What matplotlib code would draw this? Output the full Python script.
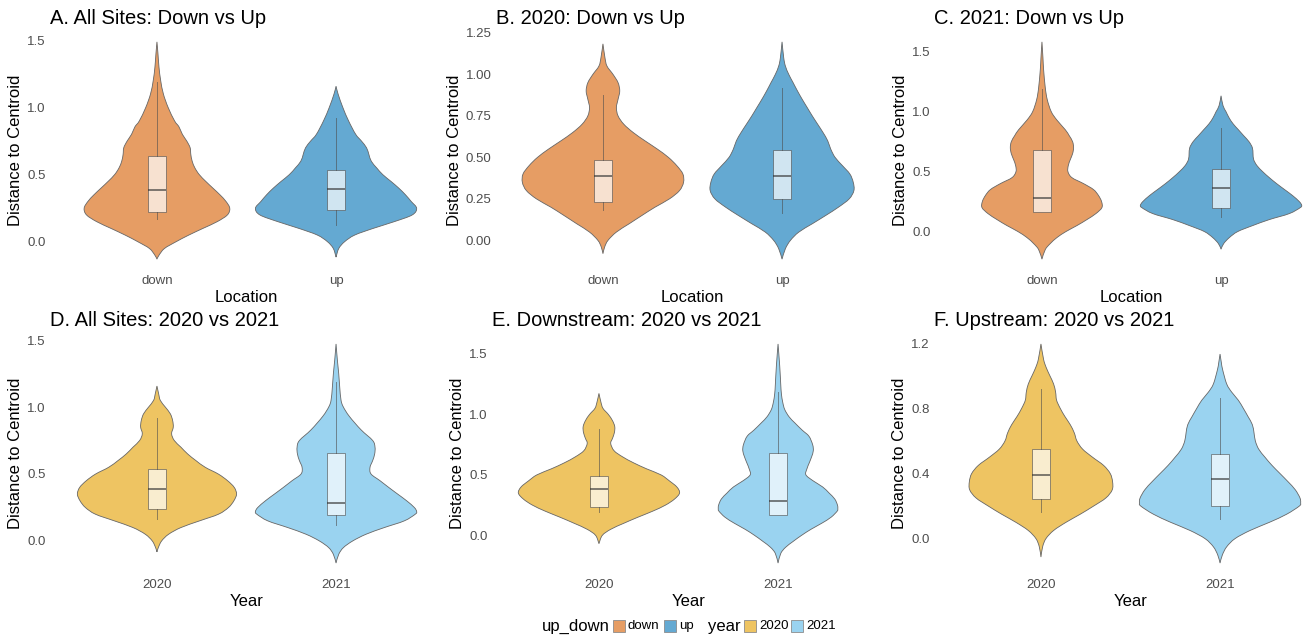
import numpy as np
import matplotlib
matplotlib.use('Agg')
import matplotlib.pyplot as plt
from matplotlib.patches import Rectangle, PathPatch
from matplotlib.path import Path
from matplotlib.ticker import MultipleLocator, FormatStrFormatter

plt.rcParams['font.family'] = ['Liberation Sans', 'DejaVu Sans']

W, H = 1311, 639

col_down = '#E69D64'
col_up = '#64A9D2'
col_2020 = '#EEC462'
col_2021 = '#9AD3F0'

loc_cats = ['down', 'up']
year_cats = ['2020', '2021']

# kernel density profiles of distance to centroid (value level, density)
# A. all sites
a_down_y = [1.488, 1.40, 1.30, 1.20, 1.10, 1.00, 0.90, 0.856, 0.80, 0.75, 0.70, 0.65, 0.60, 0.55, 0.50,
            0.45, 0.40, 0.35, 0.30, 0.25, 0.20, 0.15, 0.10, 0.05, 0.0, -0.05, -0.10, -0.129]
a_down_d = [0, 0.03, 0.06, 0.11, 0.19, 0.33, 0.52, 0.65, 0.75, 0.88, 0.98, 1.00, 1.04, 1.12, 1.25,
            1.44, 1.65, 1.86, 2.04, 2.15, 2.08, 1.78, 1.36, 0.94, 0.56, 0.22, 0.06, 0]
a_up_y = [1.158, 1.10, 1.00, 0.90, 0.80, 0.75, 0.70, 0.65, 0.60, 0.55, 0.50, 0.45, 0.40, 0.35, 0.30,
          0.25, 0.20, 0.15, 0.10, 0.05, 0.0, -0.05, -0.114]
a_up_d = [0, 0.06, 0.20, 0.37, 0.58, 0.75, 0.90, 0.97, 1.04, 1.20, 1.38, 1.62, 1.85, 2.05, 2.22,
          2.38, 2.25, 1.72, 1.10, 0.55, 0.25, 0.08, 0]

# B. 2020
b_down_y = [1.184, 1.10, 1.05, 1.00, 0.95, 0.90, 0.85, 0.80, 0.75, 0.70, 0.65, 0.60, 0.55, 0.50, 0.45,
            0.40, 0.35, 0.30, 0.25, 0.20, 0.15, 0.10, 0.05, 0.0, -0.04, -0.08]
b_down_d = [0, 0.06, 0.12, 0.30, 0.45, 0.50, 0.45, 0.40, 0.45, 0.62, 0.90, 1.25, 1.62, 1.95, 2.20,
            2.38, 2.40, 2.28, 1.98, 1.55, 1.16, 0.78, 0.40, 0.15, 0.05, 0]
b_up_y = [1.196, 1.10, 1.05, 1.00, 0.95, 0.90, 0.85, 0.80, 0.75, 0.70, 0.65, 0.60, 0.55, 0.50, 0.45,
          0.40, 0.35, 0.30, 0.25, 0.20, 0.15, 0.10, 0.05, 0.0, -0.05, -0.113]
b_up_d = [0, 0.05, 0.10, 0.20, 0.33, 0.46, 0.60, 0.75, 0.90, 1.06, 1.22, 1.36, 1.45, 1.58, 1.80,
          2.02, 2.12, 2.14, 2.00, 1.68, 1.30, 0.90, 0.50, 0.25, 0.10, 0]

# C. 2021
c_down_y = [1.583, 1.45, 1.35, 1.20, 1.10, 1.00, 0.93, 0.85, 0.80, 0.75, 0.70, 0.65, 0.60, 0.55, 0.50,
            0.45, 0.40, 0.35, 0.30, 0.25, 0.20, 0.15, 0.10, 0.05, 0.0, -0.05, -0.10, -0.15, -0.23]
c_down_d = [0, 0.03, 0.05, 0.10, 0.16, 0.28, 0.45, 0.70, 0.82, 0.92, 0.95, 0.92, 0.85, 0.79, 0.78,
            0.90, 1.25, 1.55, 1.70, 1.79, 1.80, 1.62, 1.35, 1.05, 0.72, 0.45, 0.25, 0.10, 0]
c_up_y = [1.133, 1.05, 1.00, 0.95, 0.90, 0.85, 0.80, 0.75, 0.70, 0.65, 0.60, 0.55, 0.50, 0.45, 0.40,
          0.35, 0.30, 0.25, 0.22, 0.20, 0.15, 0.10, 0.05, 0.0, -0.05, -0.10, -0.147]
c_up_d = [0, 0.06, 0.15, 0.24, 0.36, 0.52, 0.68, 0.84, 0.94, 0.96, 0.98, 1.08, 1.25, 1.45, 1.67,
          1.91, 2.15, 2.35, 2.42, 2.38, 2.05, 1.45, 0.95, 0.50, 0.25, 0.08, 0]

# D. all sites by year
d_2020_y = [1.157, 1.10, 1.05, 1.00, 0.95, 0.90, 0.85, 0.80, 0.75, 0.70, 0.65, 0.60, 0.55, 0.50, 0.45,
            0.40, 0.35, 0.30, 0.25, 0.20, 0.15, 0.10, 0.05, 0.0, -0.05, -0.082]
d_2020_d = [0, 0.05, 0.10, 0.25, 0.40, 0.47, 0.49, 0.44, 0.52, 0.72, 0.92, 1.17, 1.45, 1.84, 2.12,
            2.32, 2.39, 2.31, 2.15, 1.85, 1.28, 0.72, 0.35, 0.14, 0.04, 0]
d_2021_y = [1.471, 1.35, 1.25, 1.15, 1.05, 1.00, 0.93, 0.83, 0.75, 0.70, 0.65, 0.60, 0.55, 0.50, 0.45,
            0.40, 0.35, 0.30, 0.25, 0.22, 0.20, 0.15, 0.10, 0.05, 0.0, -0.05, -0.10, -0.165]
d_2021_d = [0, 0.04, 0.08, 0.11, 0.15, 0.22, 0.40, 0.75, 1.10, 1.17, 1.16, 1.10, 1.02, 1.05, 1.32,
            1.58, 1.85, 2.12, 2.35, 2.42, 2.38, 2.05, 1.45, 0.90, 0.50, 0.22, 0.08, 0]

# E. downstream by year
e_2020_y = [1.174, 1.10, 1.05, 1.00, 0.95, 0.90, 0.85, 0.80, 0.76, 0.70, 0.65, 0.60, 0.55, 0.50, 0.45,
            0.40, 0.35, 0.30, 0.25, 0.20, 0.15, 0.10, 0.05, 0.0, -0.069]
e_2020_d = [0, 0.06, 0.12, 0.28, 0.40, 0.47, 0.46, 0.40, 0.35, 0.45, 0.70, 1.03, 1.42, 1.85, 2.10,
            2.32, 2.40, 2.25, 1.98, 1.60, 1.16, 0.74, 0.35, 0.10, 0]
e_2021_y = [1.583, 1.40, 1.25, 1.17, 1.10, 1.04, 0.98, 0.93, 0.87, 0.82, 0.75, 0.70, 0.65, 0.60, 0.55,
            0.50, 0.45, 0.40, 0.35, 0.30, 0.25, 0.22, 0.20, 0.15, 0.10, 0.05, 0.0, -0.05, -0.10, -0.15, -0.229]
e_2021_d = [0, 0.05, 0.08, 0.10, 0.14, 0.20, 0.33, 0.50, 0.72, 0.92, 1.03, 1.05, 1.00, 0.93, 0.86,
            0.83, 1.05, 1.33, 1.52, 1.69, 1.77, 1.78, 1.76, 1.58, 1.30, 0.98, 0.70, 0.45, 0.22, 0.08, 0]

# F. upstream by year
f_2020_y = [1.196, 1.10, 1.05, 1.00, 0.95, 0.90, 0.85, 0.80, 0.75, 0.70, 0.65, 0.60, 0.55, 0.50, 0.45,
            0.40, 0.35, 0.30, 0.25, 0.20, 0.15, 0.10, 0.05, 0.0, -0.05, -0.113]
f_2020_d = [0, 0.08, 0.16, 0.27, 0.38, 0.44, 0.47, 0.58, 0.72, 0.88, 1.00, 1.08, 1.25, 1.55, 1.88,
            2.08, 2.15, 2.14, 1.95, 1.58, 1.18, 0.75, 0.38, 0.15, 0.05, 0]
f_2021_y = [1.134, 1.08, 1.036, 0.95, 0.90, 0.85, 0.80, 0.75, 0.70, 0.65, 0.60, 0.55, 0.50, 0.45, 0.40,
            0.35, 0.30, 0.25, 0.22, 0.20, 0.15, 0.10, 0.05, 0.0, -0.05, -0.10, -0.15]
f_2021_d = [0, 0.04, 0.08, 0.20, 0.35, 0.55, 0.70, 0.84, 0.97, 1.02, 1.06, 1.16, 1.35, 1.56, 1.80,
            2.04, 2.26, 2.40, 2.42, 2.38, 2.00, 1.48, 0.90, 0.45, 0.20, 0.07, 0]

# boxplot summaries: whisker low, q1, median, q3, whisker high
a_down_box = [0.168, 0.223, 0.386, 0.639, 1.190]
a_up_box = [0.124, 0.235, 0.391, 0.535, 0.918]
b_down_box = [0.185, 0.231, 0.386, 0.486, 0.874]
b_up_box = [0.165, 0.249, 0.390, 0.547, 0.918]
c_down_box = [0.164, 0.164, 0.281, 0.681, 1.186]
c_up_box = [0.119, 0.197, 0.367, 0.519, 0.861]
d_2020_box = [0.162, 0.242, 0.387, 0.539, 0.915]
d_2021_box = [0.122, 0.197, 0.284, 0.658, 1.190]
e_2020_box = [0.193, 0.235, 0.387, 0.492, 0.876]
e_2021_box = [0.166, 0.166, 0.285, 0.685, 1.188]
f_2020_box = [0.164, 0.242, 0.390, 0.548, 0.917]
f_2021_box = [0.119, 0.199, 0.365, 0.523, 0.866]

panels = [
    dict(title='A. All Sites: Down vs Up', cats=loc_cats, xlabel='Location',
         ys=[a_down_y, a_up_y], ds=[a_down_d, a_up_d], boxes=[a_down_box, a_up_box],
         colors=[col_down, col_up], step=0.5, fmt='%.1f', left=49.5, top=31, bottom=270),
    dict(title='B. 2020: Down vs Up', cats=loc_cats, xlabel='Location',
         ys=[b_down_y, b_up_y], ds=[b_down_d, b_up_d], boxes=[b_down_box, b_up_box],
         colors=[col_down, col_up], step=0.25, fmt='%.2f', left=495.5, top=31, bottom=270),
    dict(title='C. 2021: Down vs Up', cats=loc_cats, xlabel='Location',
         ys=[c_down_y, c_up_y], ds=[c_down_d, c_up_d], boxes=[c_down_box, c_up_box],
         colors=[col_down, col_up], step=0.5, fmt='%.1f', left=934.5, top=31, bottom=270),
    dict(title='D. All Sites: 2020 vs 2021', cats=year_cats, xlabel='Year',
         ys=[d_2020_y, d_2021_y], ds=[d_2020_d, d_2021_d], boxes=[d_2020_box, d_2021_box],
         colors=[col_2020, col_2021], step=0.5, fmt='%.1f', left=49.5, top=333, bottom=574),
    dict(title='E. Downstream: 2020 vs 2021', cats=year_cats, xlabel='Year',
         ys=[e_2020_y, e_2021_y], ds=[e_2020_d, e_2021_d], boxes=[e_2020_box, e_2021_box],
         colors=[col_2020, col_2021], step=0.5, fmt='%.1f', left=491.5, top=333, bottom=574),
    dict(title='F. Upstream: 2020 vs 2021', cats=year_cats, xlabel='Year',
         ys=[f_2020_y, f_2021_y], ds=[f_2020_d, f_2021_d], boxes=[f_2020_box, f_2021_box],
         colors=[col_2020, col_2021], step=0.4, fmt='%.1f', left=933.5, top=333, bottom=574),
]


def side_curve(pts):
    # cubic bezier pieces through the outline points (catmull-rom tangents)
    verts, n = [], len(pts)
    for k in range(n - 1):
        p0 = pts[k - 1] if k > 0 else pts[k]
        p1, p2 = pts[k], pts[k + 1]
        p3 = pts[k + 2] if k + 2 < n else pts[k + 1]
        verts += [p1 + (p2 - p0) / 6, p2 - (p3 - p1) / 6, p2]
    return verts


def violin_path(pos, yv, hw):
    right = np.column_stack([pos + hw, yv])
    left = np.column_stack([pos - hw, yv])[::-1]
    verts = [right[0]] + side_curve(right) + side_curve(left) + [right[0]]
    codes = [Path.MOVETO] + [Path.CURVE4] * (len(verts) - 2) + [Path.CLOSEPOLY]
    return Path(verts, codes)


fig = plt.figure(figsize=(W / 100, H / 100), dpi=100)
ax_w = 394

for p in panels:
    ax = fig.add_axes([p['left'] / W, 1 - p['bottom'] / H, ax_w / W, (p['bottom'] - p['top']) / H])
    dmax = max(max(d) for d in p['ds'])
    for i, (yv, dv, c, bx) in enumerate(zip(p['ys'], p['ds'], p['colors'], p['boxes'])):
        pos = i + 1
        hw = 0.45 * np.array(dv) / dmax
        ax.add_patch(PathPatch(violin_path(pos, np.array(yv), hw), facecolor=c,
                               edgecolor='#666666', lw=0.6, zorder=1))
        stats = [dict(whislo=bx[0], q1=bx[1], med=bx[2], q3=bx[3], whishi=bx[4], fliers=[])]
        ax.bxp(stats, positions=[pos], widths=0.1, patch_artist=True, showfliers=False,
               showcaps=False, manage_ticks=False,
               boxprops=dict(facecolor=(1, 1, 1, 0.7), edgecolor=(0.3, 0.3, 0.3, 0.6), lw=0.7),
               medianprops=dict(color=(0.2, 0.2, 0.2, 0.8), lw=1.1),
               whiskerprops=dict(color=(0.3, 0.3, 0.3, 0.6), lw=0.7), zorder=2)

    lo = min(min(y) for y in p['ys'])
    hi = max(max(y) for y in p['ys'])
    pad = 0.05 * (hi - lo)
    ax.set_ylim(lo - pad, hi + pad)
    ax.set_xlim(0.4, 2.6)
    ax.set_xticks([1, 2])
    ax.set_xticklabels(p['cats'])
    ax.yaxis.set_major_locator(MultipleLocator(p['step']))
    ax.yaxis.set_major_formatter(FormatStrFormatter(p['fmt']))
    for s in ax.spines.values():
        s.set_visible(False)
    ax.tick_params(length=0, labelsize=9.5, labelcolor='#4D4D4D')
    ax.tick_params(axis='x', pad=3.5)
    ax.tick_params(axis='y', pad=2.7)
    ax.set_xlabel(p['xlabel'], fontsize=12, labelpad=2.5)
    ax.set_ylabel('Distance to Centroid', fontsize=12, labelpad=3)
    ax.set_title(p['title'], loc='left', fontsize=14.5, pad=5)


# legend along the bottom
def px(x, y):
    return x / W, 1 - y / H


ly = 626
fig.text(*px(542, ly), 'up_down', fontsize=12, va='center', ha='left')
fig.text(*px(708, ly), 'year', fontsize=12, va='center', ha='left')
keys = [(613, col_down, 'down'), (664, col_up, 'up'), (744, col_2020, '2020'), (791, col_2021, '2021')]
for kx, kc, kl in keys:
    x0, y0 = px(kx, ly + 6)
    fig.add_artist(Rectangle((x0, y0), 12 / W, 12 / H, transform=fig.transFigure,
                             facecolor=kc, edgecolor='#8C8C8C', lw=0.6))
    fig.text(*px(kx + 15, ly), kl, fontsize=9.5, va='center', ha='left')

fig.savefig('out.png', dpi=100)
